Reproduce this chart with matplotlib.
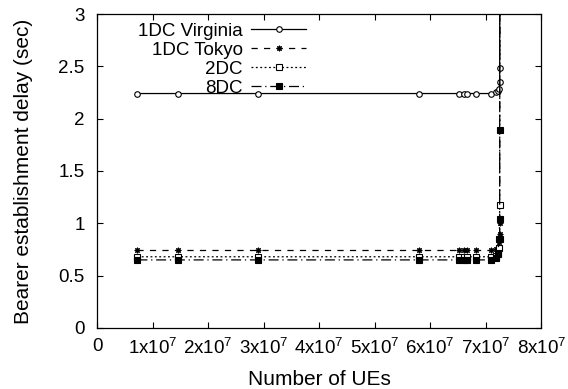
import matplotlib
matplotlib.use('Agg')
import matplotlib.pyplot as plt

plt.rcParams['font.family'] = ['Liberation Sans', 'DejaVu Sans']
plt.rcParams['mathtext.fontset'] = 'custom'
plt.rcParams['mathtext.rm'] = 'Liberation Sans'

# number of UEs (x values shared by all series)
ues = [7.25e6, 1.45e7, 2.9e7, 5.8e7, 6.525e7, 6.6e7, 6.67e7, 6.82e7,
       7.1e7, 7.18e7, 7.22e7, 7.24e7, 7.25e7, 7.25e7, 7.26e7]

# bearer establishment delay (sec)
virginia = [2.24, 2.24, 2.24, 2.24, 2.24, 2.24, 2.24, 2.24,
            2.24, 2.25, 2.26, 2.28, 2.35, 2.48, 9.0]
tokyo = [0.74, 0.74, 0.74, 0.74, 0.74, 0.74, 0.74, 0.74,
         0.74, 0.75, 0.77, 0.82, 0.90, 1.00, 9.0]
dc2 = [0.68, 0.68, 0.68, 0.68, 0.68, 0.68, 0.68, 0.68,
       0.68, 0.69, 0.71, 0.76, 0.85, 1.17, 9.0]
dc8 = [0.65, 0.65, 0.65, 0.65, 0.65, 0.65, 0.65, 0.65,
       0.65, 0.67, 0.72, 0.85, 1.04, 1.89, 9.0]

series_labels = ['1DC Virginia', '1DC Tokyo', '2DC', '8DC']

xticks = [0, 1e7, 2e7, 3e7, 4e7, 5e7, 6e7, 7e7, 8e7]
xtick_labels = ['0'] + ['%dx10$^{\\mathregular{7}}$' % i for i in range(1, 9)]
yticks = [0, 0.5, 1, 1.5, 2, 2.5, 3]
ytick_labels = ['0', '0.5', '1', '1.5', '2', '2.5', '3']

FS = 13.5

fig = plt.figure(figsize=(5.68, 3.89), dpi=100, facecolor='white')
ax = fig.add_axes([0.171, 0.157, 0.782, 0.807])

lw = 0.9
ax.plot(ues, virginia, color='black', lw=lw, ls='-', marker='o',
        ms=4, mfc='white', mew=0.8, label=series_labels[0])
ax.plot(ues, tokyo, color='black', lw=lw, ls=(0, (5, 5)), marker=(8, 2, 0),
        ms=4, mew=0.8, label=series_labels[1])
ax.plot(ues, dc2, color='black', lw=lw, ls=(0, (1.5, 2)), marker='s',
        ms=4, mfc='white', mew=0.8, label=series_labels[2])
ax.plot(ues, dc8, color='black', lw=lw, ls=(0, (8, 3, 1, 3)), marker='s',
        ms=4, mfc='black', mew=0.8, label=series_labels[3])

ax.set_xlim(0, 8e7)
ax.set_ylim(0, 3)
ax.set_xticks(xticks)
ax.set_xticklabels(xtick_labels, fontsize=FS)
ax.set_yticks(yticks)
ax.set_yticklabels(ytick_labels, fontsize=FS)
ax.tick_params(direction='in', length=4, width=0.8, top=True, right=True)
ax.tick_params(axis='x', pad=7)
ax.tick_params(axis='y', pad=9)
for s in ax.spines.values():
    s.set_linewidth(0.9)

ax.set_xlabel('Number of UEs', fontsize=15, labelpad=8)
ax.set_ylabel('Bearer establishment delay (sec)', fontsize=15, labelpad=18)

ax.legend(loc='upper right', bbox_to_anchor=(0.478, 0.985), frameon=False,
          markerfirst=False, fontsize=FS, handlelength=2.9,
          handletextpad=0.45, labelspacing=0.1, borderpad=0.2,
          borderaxespad=0)

fig.savefig('out.png', dpi=100, facecolor='white')
